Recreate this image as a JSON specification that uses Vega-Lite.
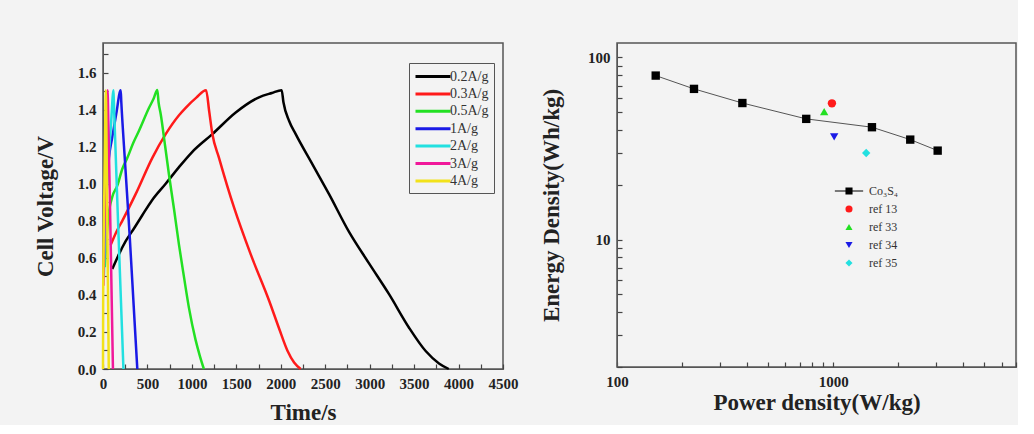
{
  "$schema": "https://vega.github.io/schema/vega-lite/v6.json",
  "padding": {"left": 33, "top": 42, "right": 0, "bottom": 0},
  "background": "#f3f3f3",
  "bounds": "flush",
  "spacing": 114,
  "config": {
    "font": "Liberation Serif",
    "view": {"stroke": "#555", "strokeWidth": 1.5},
    "axis": {
      "labelFont": "Liberation Serif", "labelFontWeight": "bold", "labelFontSize": 15, "labelColor": "#222",
      "titleFont": "Liberation Serif", "titleFontWeight": "bold", "titleFontSize": 23, "titleColor": "#222",
      "grid": false, "domainColor": "#555", "tickColor": "#444", "tickWidth": 1.2, "tickSize": -5, "labelPadding": 12,
      "labelOverlap": false, "labelFlush": false
    },
    "axisX": {"titlePadding": 10},
    "axisY": {"titlePadding": 20}
  },
  "resolve": {"scale": {"color": "independent", "shape": "independent"}, "legend": {"color": "independent", "shape": "independent"}},
  "hconcat": [
    {
      "width": 400,
      "height": 326,
      "data": {"values": [
        {"rate": "0.2A/g", "t": 105, "v": 0.54},
        {"rate": "0.2A/g", "t": 180, "v": 0.62},
        {"rate": "0.2A/g", "t": 255, "v": 0.69},
        {"rate": "0.2A/g", "t": 350, "v": 0.76},
        {"rate": "0.2A/g", "t": 442, "v": 0.83},
        {"rate": "0.2A/g", "t": 550, "v": 0.91},
        {"rate": "0.2A/g", "t": 705, "v": 1.0},
        {"rate": "0.2A/g", "t": 855, "v": 1.09},
        {"rate": "0.2A/g", "t": 1000, "v": 1.17},
        {"rate": "0.2A/g", "t": 1230, "v": 1.268},
        {"rate": "0.2A/g", "t": 1493, "v": 1.385},
        {"rate": "0.2A/g", "t": 1755, "v": 1.467},
        {"rate": "0.2A/g", "t": 1900, "v": 1.49},
        {"rate": "0.2A/g", "t": 2010, "v": 1.505},
        {"rate": "0.2A/g", "t": 2030, "v": 1.44},
        {"rate": "0.2A/g", "t": 2093, "v": 1.34},
        {"rate": "0.2A/g", "t": 2168, "v": 1.268},
        {"rate": "0.2A/g", "t": 2355, "v": 1.106},
        {"rate": "0.2A/g", "t": 2543, "v": 0.944},
        {"rate": "0.2A/g", "t": 2768, "v": 0.74},
        {"rate": "0.2A/g", "t": 2993, "v": 0.57},
        {"rate": "0.2A/g", "t": 3218, "v": 0.404},
        {"rate": "0.2A/g", "t": 3443, "v": 0.223},
        {"rate": "0.2A/g", "t": 3630, "v": 0.097},
        {"rate": "0.2A/g", "t": 3780, "v": 0.03},
        {"rate": "0.2A/g", "t": 3890, "v": 0.0},
        {"rate": "0.3A/g", "t": 87, "v": 0.67},
        {"rate": "0.3A/g", "t": 150, "v": 0.74},
        {"rate": "0.3A/g", "t": 217, "v": 0.8},
        {"rate": "0.3A/g", "t": 367, "v": 0.944},
        {"rate": "0.3A/g", "t": 555, "v": 1.14},
        {"rate": "0.3A/g", "t": 705, "v": 1.268},
        {"rate": "0.3A/g", "t": 855, "v": 1.37},
        {"rate": "0.3A/g", "t": 930, "v": 1.41},
        {"rate": "0.3A/g", "t": 1050, "v": 1.465},
        {"rate": "0.3A/g", "t": 1160, "v": 1.505},
        {"rate": "0.3A/g", "t": 1195, "v": 1.39},
        {"rate": "0.3A/g", "t": 1230, "v": 1.27},
        {"rate": "0.3A/g", "t": 1305, "v": 1.14},
        {"rate": "0.3A/g", "t": 1474, "v": 0.872},
        {"rate": "0.3A/g", "t": 1661, "v": 0.62},
        {"rate": "0.3A/g", "t": 1868, "v": 0.37},
        {"rate": "0.3A/g", "t": 1980, "v": 0.22},
        {"rate": "0.3A/g", "t": 2074, "v": 0.1},
        {"rate": "0.3A/g", "t": 2150, "v": 0.035},
        {"rate": "0.3A/g", "t": 2224, "v": 0.0},
        {"rate": "0.5A/g", "t": 20, "v": 0.55},
        {"rate": "0.5A/g", "t": 60, "v": 0.82},
        {"rate": "0.5A/g", "t": 105, "v": 0.93},
        {"rate": "0.5A/g", "t": 161, "v": 0.99},
        {"rate": "0.5A/g", "t": 217, "v": 1.08},
        {"rate": "0.5A/g", "t": 274, "v": 1.14},
        {"rate": "0.5A/g", "t": 340, "v": 1.22},
        {"rate": "0.5A/g", "t": 405, "v": 1.286},
        {"rate": "0.5A/g", "t": 518, "v": 1.41},
        {"rate": "0.5A/g", "t": 570, "v": 1.46},
        {"rate": "0.5A/g", "t": 611, "v": 1.506},
        {"rate": "0.5A/g", "t": 625, "v": 1.44},
        {"rate": "0.5A/g", "t": 649, "v": 1.377},
        {"rate": "0.5A/g", "t": 700, "v": 1.2},
        {"rate": "0.5A/g", "t": 742, "v": 1.05},
        {"rate": "0.5A/g", "t": 800, "v": 0.86},
        {"rate": "0.5A/g", "t": 855, "v": 0.67},
        {"rate": "0.5A/g", "t": 910, "v": 0.5},
        {"rate": "0.5A/g", "t": 967, "v": 0.33},
        {"rate": "0.5A/g", "t": 1040, "v": 0.16},
        {"rate": "0.5A/g", "t": 1090, "v": 0.07},
        {"rate": "0.5A/g", "t": 1135, "v": 0.0},
        {"rate": "1A/g", "t": 15, "v": 0.6},
        {"rate": "1A/g", "t": 40, "v": 0.95},
        {"rate": "1A/g", "t": 67, "v": 1.14},
        {"rate": "1A/g", "t": 100, "v": 1.24},
        {"rate": "1A/g", "t": 150, "v": 1.38},
        {"rate": "1A/g", "t": 199, "v": 1.505},
        {"rate": "1A/g", "t": 206, "v": 1.44},
        {"rate": "1A/g", "t": 250, "v": 1.1},
        {"rate": "1A/g", "t": 300, "v": 0.72},
        {"rate": "1A/g", "t": 350, "v": 0.3},
        {"rate": "1A/g", "t": 386, "v": 0.0},
        {"rate": "2A/g", "t": 10, "v": 0.5},
        {"rate": "2A/g", "t": 35, "v": 0.9},
        {"rate": "2A/g", "t": 65, "v": 1.15},
        {"rate": "2A/g", "t": 90, "v": 1.32},
        {"rate": "2A/g", "t": 118, "v": 1.505},
        {"rate": "2A/g", "t": 123, "v": 1.43},
        {"rate": "2A/g", "t": 175, "v": 0.72},
        {"rate": "2A/g", "t": 230, "v": 0.0},
        {"rate": "3A/g", "t": 5, "v": 0.45},
        {"rate": "3A/g", "t": 20, "v": 0.85},
        {"rate": "3A/g", "t": 38, "v": 1.2},
        {"rate": "3A/g", "t": 52, "v": 1.505},
        {"rate": "3A/g", "t": 56, "v": 1.43},
        {"rate": "3A/g", "t": 85, "v": 0.72},
        {"rate": "3A/g", "t": 112, "v": 0.0},
        {"rate": "4A/g", "t": 0, "v": 0.0},
        {"rate": "4A/g", "t": 2, "v": 0.4},
        {"rate": "4A/g", "t": 12, "v": 0.85},
        {"rate": "4A/g", "t": 22, "v": 1.2},
        {"rate": "4A/g", "t": 32, "v": 1.505},
        {"rate": "4A/g", "t": 35, "v": 1.43},
        {"rate": "4A/g", "t": 50, "v": 0.72},
        {"rate": "4A/g", "t": 65, "v": 0.0}
      ]},
      "mark": {"type": "line", "strokeWidth": 2.5, "interpolate": "monotone"},
      "encoding": {
        "x": {"field": "t", "type": "quantitative",
          "scale": {"domain": [0, 4500], "nice": false, "zero": false},
          "axis": {"title": "Time/s", "format": "d",
            "values": [0, 250, 500, 750, 1000, 1250, 1500, 1750, 2000, 2250, 2500, 2750, 3000, 3250, 3500, 3750, 4000, 4250, 4500],
            "labelExpr": "datum.value % 500 === 0 ? datum.label : ''"}},
        "y": {"field": "v", "type": "quantitative",
          "scale": {"domain": [0, 1.76], "nice": false},
          "axis": {"title": "Cell Voltage/V", "format": ".1f",
            "values": [0, 0.1, 0.2, 0.3, 0.4, 0.5, 0.6, 0.7, 0.8, 0.9, 1.0, 1.1, 1.2, 1.3, 1.4, 1.5, 1.6, 1.7],
            "labelExpr": "round(datum.value * 10) % 2 === 0 ? datum.label : ''"}},
        "color": {"field": "rate", "type": "nominal",
          "scale": {"domain": ["0.2A/g", "0.3A/g", "0.5A/g", "1A/g", "2A/g", "3A/g", "4A/g"],
                    "range": ["#000000", "#ff1a1a", "#22e022", "#1a1ae6", "#22e0e0", "#f0189a", "#f2e21a"]},
          "legend": {"orient": "none", "legendX": 306, "legendY": 20, "title": null,
            "symbolType": "M-1,0H4", "symbolSize": 196, "symbolStrokeWidth": 3,
            "labelFontSize": 14, "labelFont": "Liberation Serif", "labelColor": "#333",
            "strokeColor": "#555", "padding": 5, "rowPadding": 1.4, "labelOffset": 19}}
      }
    },
    {
      "width": 399,
      "height": 324,
      "data": {"values": [
        {"series": "Co₃S₄", "p": 151, "e": 79.5},
        {"series": "Co₃S₄", "p": 227, "e": 67.2},
        {"series": "Co₃S₄", "p": 380, "e": 56.2},
        {"series": "Co₃S₄", "p": 750, "e": 46.0},
        {"series": "Co₃S₄", "p": 1510, "e": 41.4},
        {"series": "Co₃S₄", "p": 2270, "e": 35.4},
        {"series": "Co₃S₄", "p": 3040, "e": 30.8},
        {"series": "ref 13", "p": 986, "e": 56.0},
        {"series": "ref 33", "p": 908, "e": 50.4},
        {"series": "ref 34", "p": 1010, "e": 36.6},
        {"series": "ref 35", "p": 1420, "e": 29.9}
      ]},
      "encoding": {
        "x": {"field": "p", "type": "quantitative",
          "scale": {"type": "log", "domain": [100, 7000], "nice": false},
          "axis": {"title": "Power density(W/kg)", "format": "d", "titlePadding": 2,
            "values": [100, 200, 300, 400, 500, 600, 700, 800, 900, 1000, 2000, 3000, 4000, 5000, 6000, 7000],
            "labelExpr": "datum.value === 100 || datum.value === 1000 ? datum.label : ''"}},
        "y": {"field": "e", "type": "quantitative",
          "scale": {"type": "log", "domain": [2, 120], "nice": false},
          "axis": {"title": "Energy Density(Wh/kg)", "format": "d", "titlePadding": 24,
            "values": [2, 3, 4, 5, 6, 7, 8, 9, 10, 20, 30, 40, 50, 60, 70, 80, 90, 100],
            "labelExpr": "datum.value === 10 || datum.value === 100 ? datum.label : ''"}}
      },
      "resolve": {"scale": {"color": "independent", "shape": "independent"}},
      "layer": [
        {
          "transform": [{"filter": "datum.series === 'Co₃S₄'"}],
          "mark": {"type": "line", "color": "#555", "strokeWidth": 1}
        },
        {
          "mark": {"type": "point", "filled": true, "size": 70, "opacity": 1},
          "encoding": {
            "color": {"field": "series", "type": "nominal",
              "scale": {"domain": ["Co₃S₄", "ref 13", "ref 33", "ref 34", "ref 35"],
                        "range": ["#000000", "#ff1a1a", "#22e022", "#1a1ae6", "#22e0e0"]},
              "legend": null},
            "shape": {"field": "series", "type": "nominal",
              "scale": {"domain": ["Co₃S₄", "ref 13", "ref 33", "ref 34", "ref 35"],
                        "range": ["square", "circle", "triangle-up", "triangle-down", "diamond"]},
              "legend": null}
          }
        },
        {
          "mark": {"type": "point", "filled": true, "size": 0, "opacity": 0},
          "encoding": {
            "color": {"field": "series", "type": "nominal",
              "scale": {"domain": ["Co₃S₄", "ref 13", "ref 33", "ref 34", "ref 35"],
                        "range": ["#000000", "#ff1a1a", "#22e022", "#1a1ae6", "#22e0e0"]},
              "legend": {"orient": "none", "legendX": 226, "legendY": 142, "title": null,
                "labelFontSize": 12, "labelFont": "Liberation Serif", "labelColor": "#333",
                "symbolSize": 50, "symbolOpacity": 1, "rowPadding": 4, "labelOffset": 14}},
            "shape": {"field": "series", "type": "nominal",
              "scale": {"domain": ["Co₃S₄", "ref 13", "ref 33", "ref 34", "ref 35"],
                        "range": ["M-4,-0.15H-1V0.15H-4Z M1,-0.15H4V0.15H1Z M-1,-1H1V1H-1Z", "circle", "triangle-up", "triangle-down", "diamond"]},
              "legend": {"orient": "none", "legendX": 226, "legendY": 142, "title": null,
                "labelFontSize": 12, "labelFont": "Liberation Serif", "labelColor": "#333",
                "symbolSize": 50, "symbolOpacity": 1, "rowPadding": 4, "labelOffset": 14}}
          }
        }
      ]
    }
  ]
}
